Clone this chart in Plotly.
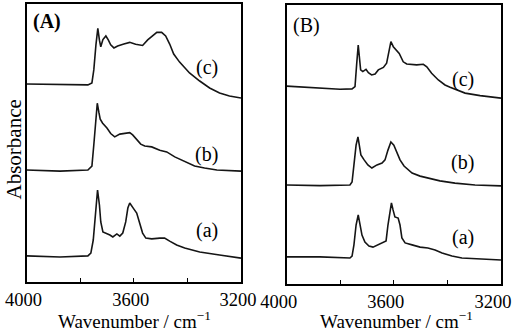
import plotly.graph_objects as go

# ---------------- data ----------------
# Panel A
a_c_wn = [4000, 3875, 3771, 3756, 3749, 3741, 3734, 3728, 3723, 3715, 3704, 3695, 3686, 3674, 3660, 3637, 3615,
          3593, 3567, 3548, 3529, 3514, 3496, 3481, 3466, 3451, 3429, 3392, 3354, 3317, 3280, 3243, 3200]
a_c_ab = [0.712, 0.709, 0.709, 0.716, 0.763, 0.853, 0.912, 0.870, 0.846, 0.872, 0.885, 0.871, 0.853, 0.842, 0.849,
          0.856, 0.862, 0.855, 0.851, 0.871, 0.888, 0.898, 0.898, 0.885, 0.856, 0.820, 0.791, 0.752, 0.723, 0.698,
          0.680, 0.669, 0.662]

a_b_wn = [4000, 3875, 3771, 3756, 3749, 3741, 3736, 3730, 3725, 3716, 3700, 3686, 3671, 3652, 3633, 3615, 3604,
          3589, 3574, 3559, 3533, 3503, 3477, 3447, 3410, 3373, 3336, 3290, 3200]
a_b_ab = [0.403, 0.399, 0.403, 0.417, 0.493, 0.601, 0.643, 0.610, 0.586, 0.571, 0.554, 0.534, 0.522, 0.532, 0.534,
          0.537, 0.529, 0.512, 0.496, 0.489, 0.486, 0.474, 0.468, 0.450, 0.432, 0.417, 0.410, 0.403, 0.399]

a_a_wn = [4000, 3875, 3771, 3760, 3751, 3741, 3735, 3728, 3723, 3715, 3704, 3689, 3678, 3663, 3652, 3641, 3630,
          3622, 3615, 3607, 3600, 3589, 3578, 3567, 3555, 3533, 3503, 3485, 3466, 3440, 3410, 3354, 3280, 3200]
a_a_ab = [0.094, 0.090, 0.094, 0.104, 0.151, 0.259, 0.331, 0.277, 0.216, 0.180, 0.176, 0.169, 0.162, 0.173, 0.165,
          0.176, 0.216, 0.266, 0.284, 0.270, 0.263, 0.248, 0.216, 0.176, 0.158, 0.155, 0.158, 0.158, 0.147, 0.133,
          0.122, 0.108, 0.097, 0.086]

# Panel B
b_c_wn = [4000, 3950, 3876, 3801, 3756, 3745, 3739, 3733, 3724, 3716, 3704, 3695, 3683, 3670, 3658, 3639, 3627,
          3617, 3611, 3602, 3589, 3580, 3565, 3552, 3515, 3490, 3477, 3459, 3434, 3409, 3390, 3334, 3278, 3200]
b_c_ab = [0.708, 0.705, 0.700, 0.697, 0.698, 0.706, 0.784, 0.855, 0.766, 0.760, 0.768, 0.756, 0.748, 0.751, 0.766,
          0.775, 0.790, 0.843, 0.867, 0.849, 0.837, 0.825, 0.795, 0.787, 0.784, 0.786, 0.777, 0.754, 0.730, 0.712,
          0.704, 0.683, 0.674, 0.665]

b_b_wn = [4000, 3876, 3764, 3756, 3749, 3741, 3734, 3728, 3723, 3711, 3697, 3682, 3663, 3644, 3633, 3622, 3611,
          3600, 3588, 3577, 3562, 3532, 3502, 3473, 3428, 3372, 3297, 3200]
b_b_ab = [0.354, 0.352, 0.354, 0.365, 0.426, 0.497, 0.526, 0.497, 0.462, 0.444, 0.426, 0.415, 0.426, 0.433, 0.444,
          0.479, 0.508, 0.497, 0.472, 0.444, 0.422, 0.397, 0.386, 0.379, 0.369, 0.361, 0.354, 0.351]

b_a_wn = [4000, 3876, 3764, 3756, 3749, 3741, 3733, 3726, 3719, 3708, 3693, 3678, 3659, 3641, 3629, 3622, 3614,
          3609, 3603, 3596, 3584, 3577, 3570, 3558, 3532, 3502, 3473, 3446, 3420, 3383, 3346, 3278, 3200]
b_a_ab = [0.097, 0.097, 0.093, 0.100, 0.140, 0.211, 0.247, 0.211, 0.175, 0.150, 0.136, 0.132, 0.140, 0.147, 0.154,
          0.211, 0.272, 0.290, 0.265, 0.240, 0.236, 0.211, 0.165, 0.147, 0.140, 0.132, 0.129, 0.122, 0.111, 0.100,
          0.093, 0.089, 0.086]

tick_vals = [4000, 3800, 3600, 3400, 3200]
tick_text = ["4000", "", "3600", "", "3200"]
curve_labels = ["(a)", "(b)", "(c)"]
label_pos_a = [(3328, 0.187), (3328, 0.457), (3328, 0.770)]
label_pos_b = [(3342, 0.165), (3342, 0.436), (3342, 0.733)]

FONT = "Liberation Serif"
LINE = dict(color="#151515", width=1.6)

fig = go.Figure()
for wn, ab in [(a_a_wn, a_a_ab), (a_b_wn, a_b_ab), (a_c_wn, a_c_ab)]:
    fig.add_trace(go.Scatter(x=wn, y=ab, mode="lines", line=LINE, xaxis="x", yaxis="y",
                             showlegend=False, hoverinfo="skip"))
for wn, ab in [(b_a_wn, b_a_ab), (b_b_wn, b_b_ab), (b_c_wn, b_c_ab)]:
    fig.add_trace(go.Scatter(x=wn, y=ab, mode="lines", line=LINE, xaxis="x2", yaxis="y2",
                             showlegend=False, hoverinfo="skip"))

W, H = 515, 331


def px_x(p):
    return p / W


def px_y(p):
    return (H - p) / H


xcommon = dict(range=[4000, 3200], tickmode="array", tickvals=tick_vals, ticktext=tick_text,
               ticks="inside", ticklen=4, tickwidth=1.2, tickcolor="black",
               showline=True, linecolor="black", linewidth=1.5, mirror=True,
               showgrid=False, zeroline=False, automargin=False,
               ticklabeloverflow="allow",
               tickfont=dict(family=FONT, size=18.5, color="black"))
ycommon = dict(range=[0, 1], showticklabels=False, ticks="", showline=True, linecolor="black",
               linewidth=1.5, mirror=True, showgrid=False, zeroline=False, automargin=False)

fig.update_layout(
    template="none",
    width=W, height=H, margin=dict(l=0, r=0, t=0, b=0, pad=0, autoexpand=False),
    paper_bgcolor="white", plot_bgcolor="white",
    font=dict(family=FONT, color="black"),
    xaxis=dict(domain=[px_x(26.5), px_x(241)], anchor="y", ticklabelshift=3, **xcommon),
    yaxis=dict(domain=[px_y(282), px_y(4)], anchor="x", **ycommon),
    xaxis2=dict(domain=[px_x(286.7), px_x(501)], anchor="y2", ticklabelshift=8, **xcommon),
    yaxis2=dict(domain=[px_y(284), px_y(4.5)], anchor="x2", **ycommon),
)

ann = []
for lab, (xx, yy) in zip(curve_labels, label_pos_a):
    ann.append(dict(x=xx, y=yy, xref="x", yref="y", text=lab, showarrow=False,
                    xanchor="center", yanchor="middle",
                    font=dict(family=FONT, size=20, color="black")))
for lab, (xx, yy) in zip(curve_labels, label_pos_b):
    ann.append(dict(x=xx, y=yy, xref="x2", yref="y2", text=lab, showarrow=False,
                    xanchor="center", yanchor="middle",
                    font=dict(family=FONT, size=20, color="black")))
ann.append(dict(x=px_x(47), y=px_y(21), xref="paper", yref="paper", text="<b>(A)</b>", showarrow=False,
                xanchor="center", yanchor="middle", font=dict(family=FONT, size=20, color="black")))
ann.append(dict(x=px_x(306), y=px_y(25), xref="paper", yref="paper", text="(B)", showarrow=False,
                xanchor="center", yanchor="middle", font=dict(family=FONT, size=20, color="black")))
for cx in [134, 396.5]:
    ann.append(dict(x=px_x(cx), y=px_y(320), xref="paper", yref="paper",
                    text="Wavenumber / cm<sup>\u22121</sup>", showarrow=False,
                    xanchor="center", yanchor="middle",
                    font=dict(family=FONT, size=19, color="black")))
ann.append(dict(x=px_x(13.5), y=px_y(150), xref="paper", yref="paper", text="Absorbance",
                textangle=-90, showarrow=False, xanchor="center", yanchor="middle",
                font=dict(family=FONT, size=21, color="black")))
fig.update_layout(annotations=ann)

fig.write_html("out.html")
